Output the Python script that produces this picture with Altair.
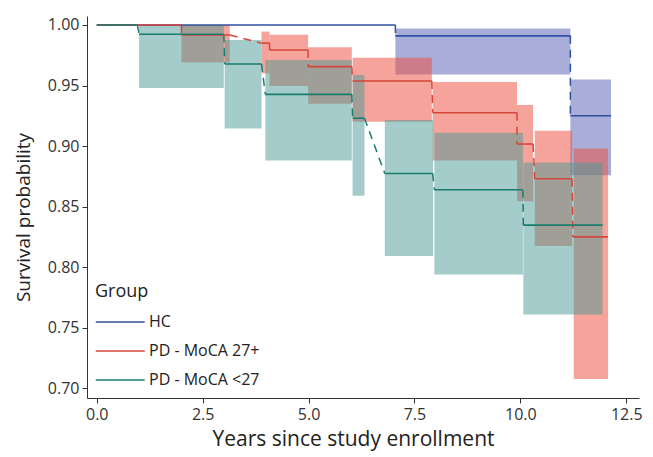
import altair as alt
import pandas as pd

groups = ["HC", "PD - MoCA 27+", "PD - MoCA <27"]
line_colors = ["#2F4F9F", "#D6453A", "#1B7B6D"]
band_colors = ["#535DB3", "#EE4A38", "#479995"]

# Kaplan-Meier step segments (start, end, survival)
hc_start = [0.0, 7.05, 11.18]
hc_end = [7.05, 11.18, 12.14]
hc_surv = [1.0, 0.991, 0.925]

pd27_start = [0.0, 2.0, 3.89, 4.08, 4.99, 6.04, 7.93, 9.92, 10.34, 11.24]
pd27_end = [2.0, 3.14, 4.08, 4.99, 6.02, 7.91, 9.92, 10.30, 11.22, 12.07]
pd27_surv = [1.0, 0.9917, 0.985, 0.9793, 0.9656, 0.9537, 0.9275, 0.9017, 0.873, 0.825]

pdlow_start = [0.0, 1.0, 3.02, 3.98, 6.04, 6.80, 7.97, 10.07]
pdlow_end = [0.96, 3.0, 3.89, 6.02, 6.32, 7.93, 10.06, 11.94]
pdlow_surv = [1.0, 0.9923, 0.9678, 0.9427, 0.923, 0.8774, 0.864, 0.8347]

# Confidence bands (start, end, lower, upper)
hc_band_start = [7.05, 11.18]
hc_band_end = [11.18, 12.14]
hc_band_low = [0.959, 0.876]
hc_band_high = [0.997, 0.955]

pd27_band_start = [2.0, 3.89, 4.08, 4.99, 6.04, 7.93, 9.92, 10.34, 11.26]
pd27_band_end = [3.14, 4.08, 4.99, 6.02, 7.91, 9.92, 10.30, 11.22, 12.07]
pd27_band_low = [0.969, 0.960, 0.9496, 0.935, 0.920, 0.888, 0.8545, 0.8174, 0.7077]
pd27_band_high = [1.0, 0.9945, 0.992, 0.9816, 0.973, 0.953, 0.934, 0.9127, 0.898]

pdlow_band_start = [1.0, 3.02, 3.98, 6.04, 6.80, 7.97, 10.07]
pdlow_band_end = [3.0, 3.89, 6.02, 6.32, 7.94, 10.06, 11.94]
pdlow_band_low = [0.948, 0.9146, 0.888, 0.859, 0.8093, 0.794, 0.761]
pdlow_band_high = [1.0, 0.9876, 0.971, 0.9587, 0.9215, 0.911, 0.8865]

x_ticks = [0.0, 2.5, 5.0, 7.5, 10.0, 12.5]
y_ticks = [0.70, 0.75, 0.80, 0.85, 0.90, 0.95, 1.00]

steps = [(hc_start, hc_end, hc_surv), (pd27_start, pd27_end, pd27_surv),
         (pdlow_start, pdlow_end, pdlow_surv)]
bands = [(hc_band_start, hc_band_end, hc_band_low, hc_band_high),
         (pd27_band_start, pd27_band_end, pd27_band_low, pd27_band_high),
         (pdlow_band_start, pdlow_band_end, pdlow_band_low, pdlow_band_high)]

seg_rows, con_rows, band_rows = [], [], []
for gi, g in enumerate(groups):
    s, e, v = steps[gi]
    for i in range(len(s)):
        seg_rows.append({"Group": g, "x0": s[i], "x1": e[i], "y": v[i]})
        if i + 1 < len(s):
            con_rows.append({"link": g, "x0": e[i], "x1": s[i + 1],
                             "y0": v[i], "y1": v[i + 1]})
    bs, be, bl, bh = bands[gi]
    for i in range(len(bs)):
        band_rows.append({"band": g, "order": gi, "x0": bs[i], "x1": be[i],
                          "lo": bl[i], "hi": bh[i]})

seg_df = pd.DataFrame(seg_rows)
con_df = pd.DataFrame(con_rows)
band_df = pd.DataFrame(band_rows)

FONT = "Open Sans"
xscale = alt.Scale(domain=[-0.23, 12.8], nice=False, zero=False)
yscale = alt.Scale(domain=[0.692, 1.0074], nice=False, zero=False)

xaxis = alt.Axis(values=x_ticks, format=".1f", title="Years since study enrollment",
                 grid=False, tickSize=5, labelFontSize=16, titleFontSize=21,
                 labelPadding=3, titlePadding=6, labelFont=FONT, titleFont=FONT,
                 labelColor="#333333", titleColor="#222222", titleFontWeight="normal",
                 domainColor="#333333", tickColor="#333333",
                 labelFlush=False, titleX=266)
yaxis = alt.Axis(values=y_ticks, format=".2f", title="Survival probability",
                 grid=False, tickSize=5, labelFontSize=16, titleFontSize=19,
                 labelPadding=3, titlePadding=14, labelFont=FONT, titleFont=FONT,
                 labelColor="#333333", titleColor="#222222", titleFontWeight="normal",
                 domainColor="#333333", tickColor="#333333", labelFlush=False,
                 titleY=201)

# Band and connector colour scales take their domain from the data (same order),
# so that their disabled legends are not merged with the group legend.
band_layer = alt.Chart(band_df).mark_rect(opacity=0.5, strokeWidth=0).encode(
    x=alt.X("x0:Q", scale=xscale, axis=xaxis),
    x2="x1:Q",
    y=alt.Y("lo:Q", scale=yscale, axis=yaxis),
    y2="hi:Q",
    fill=alt.Fill("band:N", scale=alt.Scale(range=band_colors), legend=None),
    order="order:Q",
)

con_layer = alt.Chart(con_df).mark_rule(strokeWidth=1.5, strokeDash=[8, 6]).encode(
    x=alt.X("x0:Q", scale=xscale),
    x2="x1:Q",
    y=alt.Y("y0:Q", scale=yscale),
    y2="y1:Q",
    stroke=alt.Stroke("link:N", scale=alt.Scale(range=line_colors), legend=None),
)

seg_layer = alt.Chart(seg_df).mark_rule(strokeWidth=1.6).encode(
    x=alt.X("x0:Q", scale=xscale),
    x2="x1:Q",
    y=alt.Y("y:Q", scale=yscale),
    color=alt.Color("Group:N", scale=alt.Scale(domain=groups, range=line_colors),
                    legend=alt.Legend(title="Group", orient="none", legendX=8, legendY=267,
                                      symbolType="M-1,0H3", symbolSize=600,
                                      symbolStrokeWidth=1.5, labelOffset=28,
                                      titleFontSize=18, labelFontSize=16,
                                      titleFont=FONT, labelFont=FONT,
                                      titleColor="#222222", labelColor="#222222",
                                      titleFontWeight="normal", rowPadding=8,
                                      titlePadding=8)),
)

chart = alt.layer(band_layer, con_layer, seg_layer).properties(
    width=552, height=382,
    autosize=alt.AutoSizeParams(type="none"),
    padding={"left": 79, "top": 8, "right": 6, "bottom": 55},
).configure_view(stroke=None)

chart.save("out.html", embed_options={"renderer": "svg", "actions": False})
